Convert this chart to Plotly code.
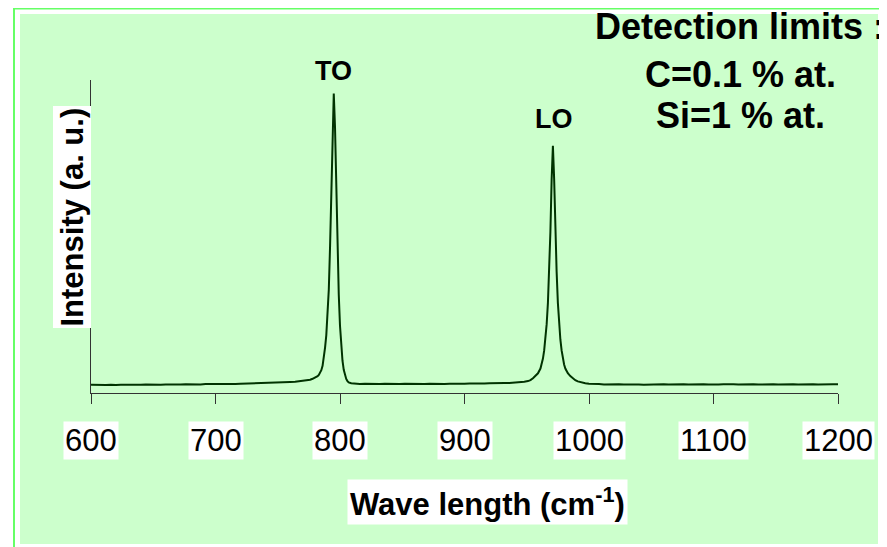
import plotly.graph_objects as go

# ---------------- data ----------------
wavenumber = [
    600, 604, 608, 612, 616, 620, 624, 628, 632, 636, 640, 644, 648, 652, 656, 660,
    664, 668, 672, 676, 680, 684, 688, 692, 696, 700, 704, 708, 712, 716, 720, 724,
    728, 732, 736, 740, 744, 748, 752, 756, 760, 764, 768, 772, 776, 778, 780, 782,
    783, 784, 785, 786, 787, 788, 789, 790, 791, 792, 793, 794, 795, 796, 797, 798,
    799, 800, 801, 802, 803, 804, 805, 806, 807, 809, 812, 816, 820, 824, 828, 832,
    836, 840, 844, 848, 852, 856, 860, 864, 868, 872, 876, 880, 884, 888, 892, 896,
    900, 904, 908, 912, 916, 920, 924, 928, 932, 936, 940, 944, 948, 951, 953, 955,
    957, 959, 961, 962, 963, 964, 965, 966, 967, 968, 969, 970, 971, 972, 973, 974,
    975, 976, 977, 978, 979, 980, 981, 983, 985, 987, 989, 991, 994, 997, 1000, 1004,
    1008, 1012, 1016, 1020, 1024, 1028, 1032, 1036, 1040, 1044, 1048, 1052, 1056, 1060, 1064, 1068,
    1072, 1076, 1080, 1084, 1088, 1092, 1096, 1100, 1104, 1108, 1112, 1116, 1120, 1124, 1128, 1132,
    1136, 1140, 1144, 1148, 1152, 1156, 1160, 1164, 1168, 1172, 1176, 1180, 1184, 1188, 1192, 1196,
    1200,
]
intensity = [
    2.62, 2.55, 2.68, 2.58, 2.64, 2.52, 2.66, 2.60, 2.70, 2.57, 2.65, 2.72, 2.61, 2.69, 2.63, 2.74,
    2.66, 2.78, 2.70, 2.76, 2.68, 2.80, 2.74, 2.86, 2.79, 2.84, 2.91, 2.83, 2.95, 2.88, 2.97, 3.02,
    2.95, 3.06, 3.10, 3.04, 3.18, 3.22, 3.30, 3.38, 3.52, 3.60, 3.78, 3.96, 4.25, 4.55, 4.90, 5.40,
    5.80, 6.40, 7.30, 8.70, 11.0, 14.5, 18.5, 24.2, 33.0, 46.6, 63.5, 84.3, 95.7, 84.8, 63.9, 46.5,
    31.5, 21.5, 14.8, 10.3, 7.4, 5.6, 4.5, 3.8, 3.4, 3.1, 2.95, 2.88, 2.95, 2.85, 2.92, 2.84,
    2.96, 2.88, 2.93, 2.86, 2.95, 2.90, 2.84, 2.97, 2.89, 2.94, 2.87, 2.98, 2.91, 2.96, 2.89, 3.00,
    2.93, 3.02, 2.95, 3.05, 3.00, 3.08, 3.04, 3.12, 3.18, 3.22, 3.30, 3.45, 3.62, 3.80, 4.10, 4.70,
    5.40, 6.30, 7.80, 9.1, 11.0, 13.6, 17.1, 22.0, 28.8, 38.7, 51.6, 68.4, 79.0, 68.4, 51.6, 38.7,
    28.8, 22.0, 17.1, 13.6, 11.0, 9.1, 7.8, 6.3, 5.4, 4.7, 4.1, 3.7, 3.35, 3.1, 2.95, 2.80,
    2.86, 2.74, 2.82, 2.70, 2.78, 2.68, 2.76, 2.64, 2.72, 2.66, 2.75, 2.63, 2.71, 2.80, 2.68, 2.77,
    2.70, 2.82, 2.73, 2.79, 2.69, 2.78, 2.72, 2.84, 2.75, 2.81, 2.70, 2.79, 2.73, 2.83, 2.74, 2.80,
    2.71, 2.78, 2.68, 2.76, 2.70, 2.79, 2.72, 2.81, 2.74, 2.80, 2.71, 2.78, 2.73, 2.82, 2.75, 2.80,
    2.76,
]
x_ticks = [600, 700, 800, 900, 1000, 1100, 1200]
x_tick_labels = ["600", "700", "800", "900", "1000", "1100", "1200"]
peak_labels = ["TO", "LO"]
peak_positions = [795, 972]
detection_lines = ["Detection limits :", "C=0.1 % at.", "Si=1 % at."]

# ---------------- layout helpers (screen pixel -> paper) ----------------
OFF = 8                      # default body margin of the html page
W, H = 879, 539
L, T = 83, 72
PLOT_R, PLOT_B = 830, 385    # figure pixel coords of plot right / bottom
R, B = W - PLOT_R, H - PLOT_B
PW, PH = PLOT_R - L, PLOT_B - T


def px(x):
    return (x - OFF - L) / PW


def py(y):
    return (PLOT_B - (y - OFF)) / PH


FONT = "Liberation Sans, Arial, sans-serif"

fig = go.Figure()
fig.add_trace(go.Scatter(
    x=wavenumber, y=intensity, mode="lines",
    line=dict(color="#003300", width=2), hoverinfo="skip", showlegend=False,
))

shapes = [
    dict(type="rect", xref="paper", yref="paper", layer="below",
         x0=px(14), x1=px(883), y0=py(620), y1=py(8.5),
         line=dict(color="#66ff66", width=2), fillcolor="white"),
    dict(type="rect", xref="paper", yref="paper", layer="below",
         x0=px(20), x1=px(878), y0=py(544), y1=py(14),
         line=dict(width=0), fillcolor="#ccffcc"),
]

annotations = []
for v, lab in zip(x_ticks, x_tick_labels):
    annotations.append(dict(
        x=v, xref="x", y=py(440), yref="paper", text=lab, showarrow=False,
        xanchor="center", yanchor="middle", bgcolor="white", borderpad=1,
        font=dict(family=FONT, size=31, color="black")))

annotations.append(dict(
    x=px(487.5), xref="paper", y=py(501.5), yref="paper",
    text="<b>Wave length (cm<sup>-1</sup>)</b>", showarrow=False,
    xanchor="center", yanchor="middle", bgcolor="white", borderpad=2,
    font=dict(family=FONT, size=31, color="black")))

annotations.append(dict(
    x=px(71.5), xref="paper", y=py(217), yref="paper",
    text="<b>Intensity (a. u.)</b>", textangle=-90, showarrow=False,
    xanchor="center", yanchor="middle", bgcolor="white", borderpad=1,
    font=dict(family=FONT, size=31, color="black")))

for lab, xp, yc in zip(peak_labels, peak_positions, [71, 119]):
    annotations.append(dict(
        x=xp, xref="x", y=py(yc), yref="paper", text="<b>%s</b>" % lab,
        showarrow=False, xanchor="center", yanchor="middle",
        font=dict(family=FONT, size=27, color="black")))

for txt, yc in zip(detection_lines, [27, 75, 115]):
    annotations.append(dict(
        x=px(740), xref="paper", y=py(yc), yref="paper", text="<b>%s</b>" % txt,
        showarrow=False, xanchor="center", yanchor="middle",
        font=dict(family=FONT, size=36, color="black")))

fig.update_layout(
    width=W, height=H,
    margin=dict(l=L, r=R, t=T, b=B, pad=0),
    paper_bgcolor="white", plot_bgcolor="#ccffcc",
    showlegend=False,
    shapes=shapes, annotations=annotations,
    xaxis=dict(range=[600, 1200], tickvals=x_ticks, showticklabels=False,
               ticks="outside", ticklen=10, tickwidth=1, tickcolor="#333333",
               showline=True, linecolor="#333333", linewidth=1,
               showgrid=False, zeroline=False, fixedrange=True),
    yaxis=dict(range=[0, 100], showticklabels=False, ticks="",
               showline=True, linecolor="#333333", linewidth=1,
               showgrid=False, zeroline=False, fixedrange=True),
)

fig.write_html("out.html")
